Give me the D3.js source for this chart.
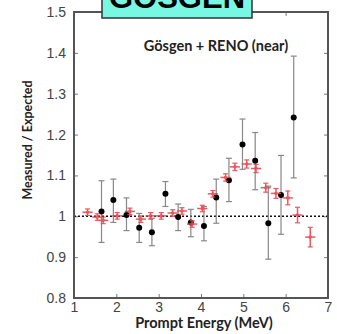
<!DOCTYPE html>
<html>
<head>
<meta charset="utf-8">
<script src="https://cdn.jsdelivr.net/npm/d3@7"></script>
<style>
  html, body { margin: 0; padding: 0; background: #fff; }
  svg { display: block; }
</style>
</head>
<body>
<svg id="chart" width="337" height="334"></svg>
<script>
// Gösgen measured / expected (black points)
const gosgenEnergy = [1.65, 1.93, 2.24, 2.54, 2.84, 3.16, 3.46, 3.76, 4.07, 4.36, 4.66, 4.98, 5.28, 5.59, 5.89, 6.19];
const gosgenRatio  = [1.012, 1.040, 1.003, 0.972, 0.961, 1.055, 0.998, 0.985, 0.976, 1.046, 1.088, 1.176, 1.136, 0.983, 1.052, 1.242];
const gosgenHigh   = [1.087, 1.091, 1.045, 1.007, 0.995, 1.085, 1.030, 1.017, 1.024, 1.091, 1.142, 1.238, 1.205, 1.074, 1.149, 1.392];
const gosgenLow    = [0.936, 0.985, 0.965, 0.936, 0.928, 1.024, 0.965, 0.950, 0.940, 0.983, 1.036, 1.115, 1.065, 0.895, 0.956, 1.094];

// RENO near detector (red crosses)
const renoEnergy = [1.32, 1.55, 1.69, 2.02, 2.32, 2.58, 2.81, 3.06, 3.33, 3.55, 3.79, 4.03, 4.28, 4.58, 4.80, 5.08, 5.30, 5.53, 5.77, 6.05, 6.28, 6.58];
const renoRatio  = [1.010, 0.998, 0.990, 1.001, 1.012, 0.993, 1.001, 1.001, 1.008, 1.013, 0.981, 1.019, 1.055, 1.095, 1.121, 1.128, 1.117, 1.070, 1.056, 1.045, 1.003, 0.949];
const renoError  = [0.008, 0.008, 0.008, 0.008, 0.008, 0.008, 0.008, 0.008, 0.008, 0.008, 0.008, 0.008, 0.008, 0.009, 0.009, 0.010, 0.010, 0.011, 0.012, 0.017, 0.019, 0.024];
const renoBinHalf = 0.12;

const xTicks = [1, 2, 3, 4, 5, 6, 7];
const yTicks = [0.8, 0.9, 1.0, 1.1, 1.2, 1.3, 1.4, 1.5];

const svg = d3.select("#chart");
const plotLeft = 74, plotRight = 328, plotTop = 12, plotBottom = 298;

const x = d3.scaleLinear().domain([1, 7]).range([plotLeft, plotRight]);
const y = d3.scaleLinear().domain([0.8, 1.5]).range([plotBottom, plotTop]);

const gosgen = gosgenEnergy.map((e, i) => ({ e, v: gosgenRatio[i], lo: gosgenLow[i], hi: gosgenHigh[i] }));
const reno = renoEnergy.map((e, i) => ({ e, v: renoRatio[i], err: renoError[i] }));

// axes, ticks pointing inward
const tickFont = "'Liberation Sans', Arial, sans-serif";

const xAxis = svg.append("g")
  .attr("transform", `translate(0,${plotBottom})`)
  .call(d3.axisBottom(x).tickValues(xTicks).tickSize(-4).tickPadding(4).tickFormat(d3.format("d")));

const yAxis = svg.append("g")
  .attr("transform", `translate(${plotLeft},0)`)
  .call(d3.axisLeft(y).tickValues(yTicks).tickSize(-4).tickPadding(8).tickFormat(d => d === 1 ? "1" : d3.format(".1f")(d)));

svg.append("g")
  .attr("transform", `translate(${plotRight},0)`)
  .call(d3.axisRight(y).tickValues(yTicks).tickSize(-4).tickFormat(""));

svg.append("g")
  .attr("transform", `translate(0,${plotTop})`)
  .call(d3.axisTop(x).tickValues(xTicks).tickSize(-4).tickFormat(""));

svg.selectAll(".domain").remove();
svg.selectAll(".tick line").attr("stroke", "#777").attr("stroke-width", 1);
[xAxis, yAxis].forEach(a => a.selectAll("text")
  .attr("fill", "#444")
  .style("font-family", tickFont)
  .style("font-size", "14px"));

// reference line at 1
svg.append("line")
  .attr("x1", plotLeft).attr("x2", plotRight)
  .attr("y1", y(1)).attr("y2", y(1))
  .attr("stroke", "#111")
  .attr("stroke-width", 1.5)
  .attr("stroke-dasharray", "2,2");

// Gösgen error bars
const gg = svg.append("g");
gg.selectAll("line.bar").data(gosgen).join("line")
  .attr("class", "bar")
  .attr("x1", d => x(d.e)).attr("x2", d => x(d.e))
  .attr("y1", d => y(d.lo)).attr("y2", d => y(d.hi))
  .attr("stroke", "#888").attr("stroke-width", 1.2);
["lo", "hi"].forEach(k => {
  gg.selectAll("line.cap-" + k).data(gosgen).join("line")
    .attr("class", "cap-" + k)
    .attr("x1", d => x(d.e) - 3).attr("x2", d => x(d.e) + 3)
    .attr("y1", d => y(d[k])).attr("y2", d => y(d[k]))
    .attr("stroke", "#888").attr("stroke-width", 1.2);
});

// RENO crosses
const red = "#e8474f";
const rg = svg.append("g").attr("opacity", 0.9);
rg.selectAll("line.h").data(reno).join("line")
  .attr("class", "h")
  .attr("x1", d => x(d.e - renoBinHalf)).attr("x2", d => x(d.e + renoBinHalf))
  .attr("y1", d => y(d.v)).attr("y2", d => y(d.v))
  .attr("stroke", red).attr("stroke-width", 1.5);
rg.selectAll("line.v").data(reno).join("line")
  .attr("class", "v")
  .attr("x1", d => x(d.e)).attr("x2", d => x(d.e))
  .attr("y1", d => y(d.v - d.err)).attr("y2", d => y(d.v + d.err))
  .attr("stroke", red).attr("stroke-width", 1.5);
[-1, 1].forEach(s => {
  rg.selectAll("line.c" + (s + 1)).data(reno).join("line")
    .attr("class", "c" + (s + 1))
    .attr("x1", d => x(d.e) - 2.5).attr("x2", d => x(d.e) + 2.5)
    .attr("y1", d => y(d.v + s * d.err)).attr("y2", d => y(d.v + s * d.err))
    .attr("stroke", red).attr("stroke-width", 1.2);
});
rg.selectAll("circle").data(reno).join("circle")
  .attr("cx", d => x(d.e)).attr("cy", d => y(d.v))
  .attr("r", 1.8).attr("fill", red);

// Gösgen points
gg.selectAll("circle").data(gosgen).join("circle")
  .attr("cx", d => x(d.e)).attr("cy", d => y(d.v))
  .attr("r", 3).attr("fill", "#000");

// frame
svg.append("rect")
  .attr("x", plotLeft).attr("y", plotTop)
  .attr("width", plotRight - plotLeft).attr("height", plotBottom - plotTop)
  .attr("fill", "none")
  .attr("stroke", "#555")
  .attr("stroke-width", 2);

// in-plot label
svg.append("text")
  .text("Gösgen + RENO (near)")
  .attr("x", 216).attr("y", 51)
  .attr("text-anchor", "middle")
  .attr("fill", "#222")
  .style("font-family", "Lato, 'Open Sans', sans-serif")
  .style("font-weight", "700")
  .style("font-size", "14.5px");

// axis titles
svg.append("text")
  .text("Prompt Energy (MeV)")
  .attr("x", 204).attr("y", 328)
  .attr("text-anchor", "middle")
  .attr("fill", "#222")
  .style("font-family", "Lato, 'Open Sans', sans-serif")
  .style("font-weight", "700")
  .style("font-size", "14.5px");

svg.append("text")
  .text("Measured / Expected")
  .attr("transform", "translate(32,140) rotate(-90)")
  .attr("text-anchor", "middle")
  .attr("fill", "#222")
  .style("font-family", "Lato, 'Open Sans', sans-serif")
  .style("font-weight", "700")
  .style("font-size", "12.5px");

// title box, clipped at the top of the picture as in the source
svg.append("rect")
  .attr("x", 102).attr("y", -12)
  .attr("width", 150).attr("height", 30)
  .attr("fill", "#78f8e2")
  .attr("stroke", "#333")
  .attr("stroke-width", 1.5);

svg.append("text")
  .text("GÖSGEN")
  .attr("x", 177).attr("y", 8)
  .attr("text-anchor", "middle")
  .attr("fill", "#000")
  .style("font-family", "'Liberation Sans', Arial, sans-serif")
  .style("font-weight", "700")
  .style("font-size", "31px");
</script>
</body>
</html>
